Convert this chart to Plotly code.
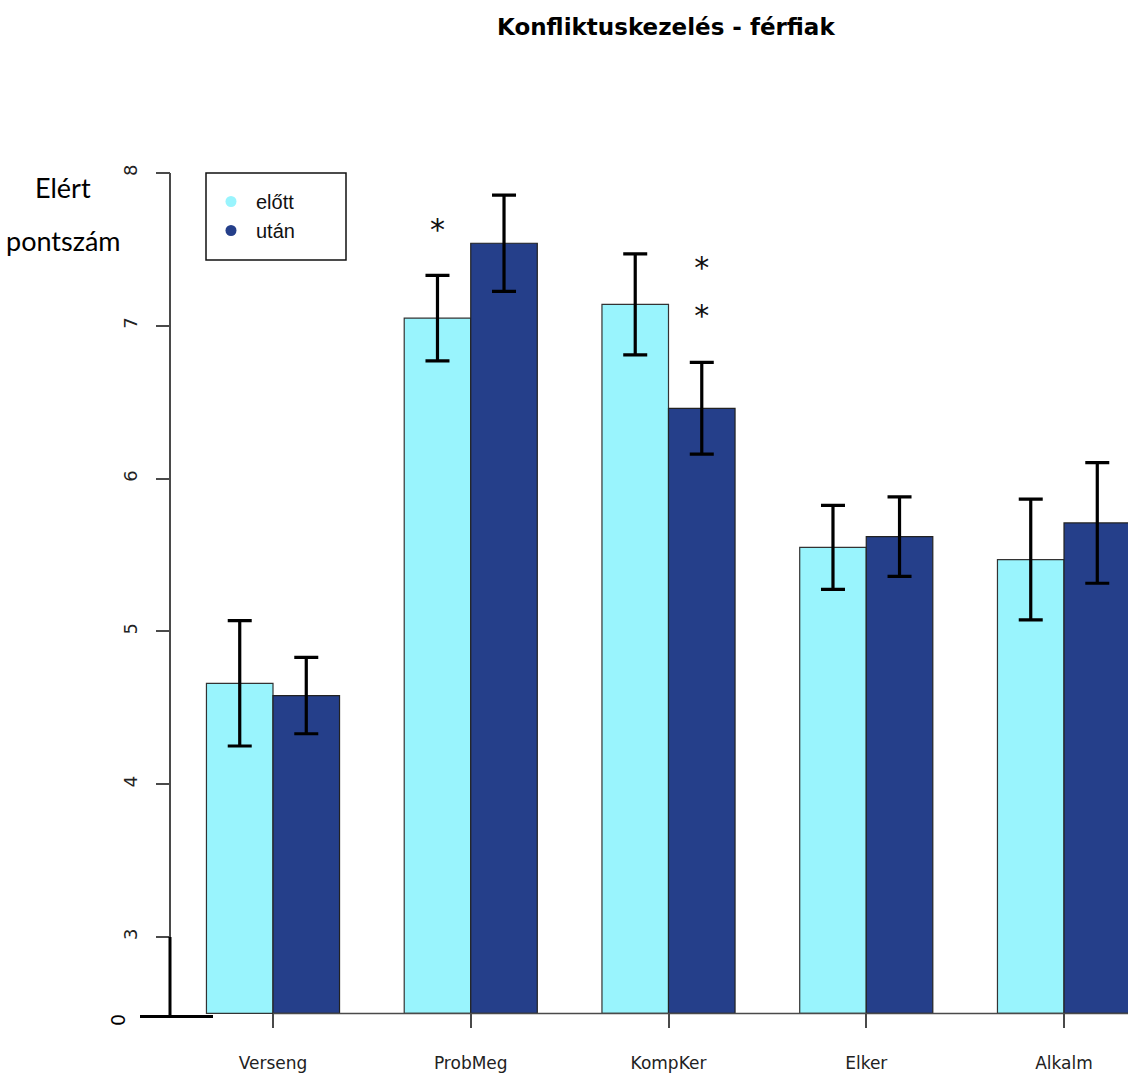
import plotly.graph_objects as go

# Conflict-handling scores for men, before ("előtt") and after ("után")
categories = ["Verseng", "ProbMeg", "KompKer", "Elker", "Alkalm"]
elott = [4.66, 7.05, 7.14, 5.55, 5.47]
elott_err = [0.41, 0.28, 0.33, 0.275, 0.395]
utan = [4.58, 7.54, 6.46, 5.62, 5.71]
utan_err = [0.25, 0.315, 0.30, 0.26, 0.395]

y_ticks = [3, 4, 5, 6, 7, 8]
baseline = 2.5

# significance stars: category index, series (0 = előtt, 1 = után), height
star_cat = [1, 2, 2]
star_series = [0, 1, 1]
star_y = [7.61, 7.36, 7.05]

CYAN = "#99F4FD"
NAVY = "#253F8A"
AXIS_GREY = "#4a4a4a"

W, H = 1128, 1073
x_range = [-1.3805, 4.3236]
y_range = [2.11, 9.132]
bargap = 0.327
bar_w = (1 - bargap) / 2

idx = list(range(len(categories)))

fig = go.Figure()

err_style = dict(type="data", visible=True, color="black", thickness=3.2, width=12)

fig.add_trace(go.Bar(
    x=idx, y=[v - baseline for v in elott], base=baseline,
    marker=dict(color=CYAN, line=dict(color="#333333", width=1.2)),
    error_y=dict(array=elott_err, **err_style),
    name="előtt", showlegend=False,
))
fig.add_trace(go.Bar(
    x=idx, y=[v - baseline for v in utan], base=baseline,
    marker=dict(color=NAVY, line=dict(color="#222222", width=1.2)),
    error_y=dict(array=utan_err, **err_style),
    name="után", showlegend=False,
))

# legend entries drawn as dots
fig.add_trace(go.Scatter(x=[None], y=[None], mode="markers", name="előtt",
                         marker=dict(color=CYAN, size=11)))
fig.add_trace(go.Scatter(x=[None], y=[None], mode="markers", name="után",
                         marker=dict(color=NAVY, size=11)))

# significance stars
star_x = [c + (s - 0.5) * bar_w for c, s in zip(star_cat, star_series)]
fig.add_trace(go.Scatter(
    x=star_x, y=star_y, mode="text", text=["*"] * len(star_x),
    textfont=dict(family="DejaVu Sans", size=30, color="#111111"),
    textposition="middle center", showlegend=False, hoverinfo="skip",
))

ax_x = 170 / W
x_pos = (baseline - y_range[0]) / (y_range[1] - y_range[0])


def px(x, y):
    return x / W, 1 - y / H


fig.update_layout(
    width=W, height=H,
    margin=dict(l=0, r=0, t=0, b=0, pad=0),
    paper_bgcolor="white", plot_bgcolor="white",
    barmode="group", bargap=bargap, bargroupgap=0,
    xaxis=dict(
        range=x_range, tickvals=idx, ticktext=categories,
        anchor="free", position=x_pos,
        showline=False, showgrid=False, zeroline=False,
        ticks="outside", ticklen=14, tickwidth=1.5, tickcolor=AXIS_GREY,
        tickfont=dict(family="DejaVu Sans", size=17, color="#222222"),
        ticklabelstandoff=20, automargin=False,
    ),
    yaxis=dict(
        range=y_range, tickvals=y_ticks,
        anchor="free", position=ax_x,
        showline=False, showgrid=False, zeroline=False,
        ticks="outside", ticklen=14, tickwidth=2, tickcolor=AXIS_GREY,
        tickangle=-90,
        tickfont=dict(family="DejaVu Sans", size=18, color="#222222"),
        ticklabelstandoff=12, automargin=False,
    ),
    legend=dict(
        x=206 / W, y=1 - 182 / H, xanchor="left", yanchor="top",
        borderwidth=0, bgcolor="rgba(0,0,0,0)",
        font=dict(family="Liberation Sans", size=20, color="#111111"),
        itemwidth=40,
    ),
    shapes=[
        # legend frame
        dict(type="rect", xref="paper", yref="paper",
             x0=206 / W, x1=346 / W, y0=1 - 260 / H, y1=1 - 173 / H,
             line=dict(color="#111111", width=1.5), layer="above"),
        # y axis line over the tick range
        dict(type="line", xref="paper", yref="y", x0=ax_x, x1=ax_x,
             y0=y_ticks[0], y1=y_ticks[-1], line=dict(color=AXIS_GREY, width=2)),
        # axis break segment down to the baseline
        dict(type="line", xref="paper", yref="y", x0=ax_x, x1=ax_x,
             y0=y_ticks[0], y1=baseline - 0.02, line=dict(color="black", width=3)),
        dict(type="line", xref="paper", yref="y", x0=140 / W, x1=213 / W,
             y0=baseline - 0.02, y1=baseline - 0.02, line=dict(color="black", width=3)),
        # category axis line
        dict(type="line", xref="x", yref="y", x0=idx[0], x1=x_range[1],
             y0=baseline, y1=baseline, line=dict(color=AXIS_GREY, width=1.5)),
    ],
    annotations=[
        dict(text="<b>Konfliktuskezelés - férfiak</b>", xref="paper", yref="paper",
             x=666 / W, y=1 - 27 / H, xanchor="center", yanchor="middle", showarrow=False,
             font=dict(family="DejaVu Sans", size=23, color="black")),
        dict(text="Elért", xref="paper", yref="paper",
             x=63 / W, y=1 - 187 / H, xanchor="center", yanchor="middle", showarrow=False,
             font=dict(family="Lato", size=27, color="black")),
        dict(text="pontszám", xref="paper", yref="paper",
             x=63 / W, y=1 - 240 / H, xanchor="center", yanchor="middle", showarrow=False,
             font=dict(family="Lato", size=27, color="black")),
        dict(text="0", xref="paper", yref="paper",
             x=118 / W, y=1 - 1020 / H, xanchor="center", yanchor="middle",
             showarrow=False, textangle=-90,
             font=dict(family="DejaVu Sans", size=19, color="black")),
    ],
)

fig.write_html("out.html")
